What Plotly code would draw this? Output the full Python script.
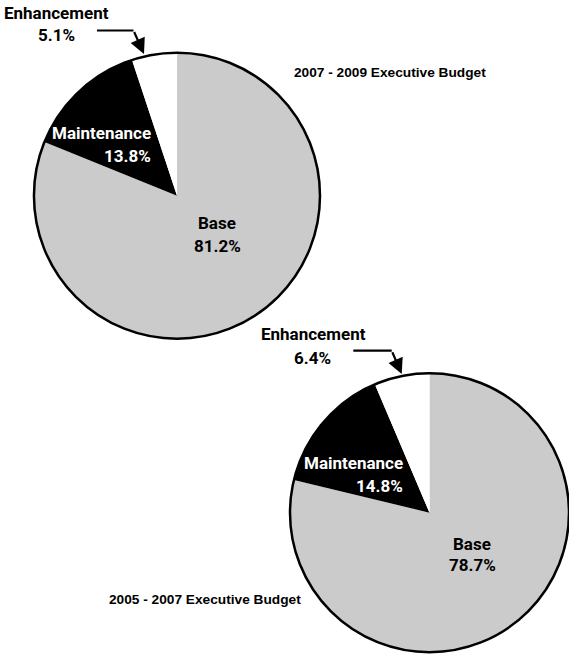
import plotly.graph_objects as go

# Budget composition by biennium
categories = ["Base", "Maintenance", "Enhancement"]
budget_titles = ["2007 - 2009 Executive Budget", "2005 - 2007 Executive Budget"]
share_2007_2009 = [81.2, 13.8, 5.1]
share_2005_2007 = [78.7, 14.8, 6.4]

slice_colors = ["#cbcbcb", "#000000", "#ffffff"]

W, H = 569, 657
LABEL_FONT = "Roboto, Liberation Sans, Arial, sans-serif"
TITLE_FONT = "Liberation Sans, Arial, Helvetica, sans-serif"


def fx(px):
    return px / W


def fy(py):
    return 1 - py / H


def domain(cx, cy, r):
    return dict(x=[max(0, fx(cx - r)), min(1, fx(cx + r))],
                y=[max(0, fy(cy + r)), min(1, fy(cy - r))])


fig = go.Figure()

pies = [
    dict(values=share_2007_2009, dom=domain(177, 195.7, 143)),
    dict(values=share_2005_2007, dom=dict(x=[fx(290), 1.0], y=[fy(652.2), fy(373.2)])),
]

for p in pies:
    fig.add_trace(go.Pie(
        labels=categories, values=p["values"], sort=False, direction="clockwise",
        rotation=0, textinfo="none", hoverinfo="skip", showlegend=False,
        marker=dict(colors=slice_colors, line=dict(width=0)),
        domain=p["dom"],
    ))
    # outer rim of the pie
    fig.add_trace(go.Pie(
        labels=["total"], values=[sum(p["values"])], sort=False, textinfo="none",
        hoverinfo="skip", showlegend=False,
        marker=dict(colors=["rgba(0,0,0,0)"], line=dict(color="#000000", width=2.5)),
        domain=p["dom"],
    ))

annotations = []
shapes = []


def label(text, x, y, size=17, xanchor="center", family=LABEL_FONT, color="#000000"):
    annotations.append(dict(
        text=text, x=fx(x), y=fy(y), xref="paper", yref="paper", showarrow=False,
        xanchor=xanchor, yanchor="middle",
        font=dict(family=family, size=size, color=color, weight="bold"),
    ))


def bent_arrow(x_start, y_line, x_bend, x_tip, y_tip):
    shapes.append(dict(type="line", xref="paper", yref="paper",
                       x0=fx(x_start), y0=fy(y_line), x1=fx(x_bend), y1=fy(y_line),
                       line=dict(color="#000000", width=2.2)))
    annotations.append(dict(
        text="", x=fx(x_tip), y=fy(y_tip), xref="paper", yref="paper",
        showarrow=True, ax=x_bend - x_tip, ay=y_line - y_tip, axref="pixel", ayref="pixel",
        arrowhead=2, arrowsize=1.4, arrowwidth=2.2, arrowcolor="#000000", standoff=0,
    ))


# 2007 - 2009
v = share_2007_2009
label(categories[0], 217, 223)
label(f"{v[0]:.1f}%", 217, 245.5)
label(categories[1], 153, 133, xanchor="right", color="#ffffff")
label(f"{v[1]:.1f}%", 153, 156, xanchor="right", color="#ffffff")
label(categories[2], 56, 12.5)
label(f"{v[2]:.1f}%", 56, 34.5)
label(budget_titles[0], 292, 72.5, size=13.7, xanchor="left", family=TITLE_FONT)
bent_arrow(97, 30.5, 133.5, 144, 54)

# 2005 - 2007
v = share_2005_2007
label(categories[0], 472, 544)
label(f"{v[0]:.1f}%", 472, 565)
label(categories[1], 405, 462.5, xanchor="right", color="#ffffff")
label(f"{v[1]:.1f}%", 405, 485.5, xanchor="right", color="#ffffff")
label(categories[2], 313, 333.5)
label(f"{v[2]:.1f}%", 312.5, 357.5)
label(budget_titles[1], 107, 599.5, size=13.7, xanchor="left", family=TITLE_FONT)
bent_arrow(353.3, 350.7, 391.7, 401.7, 374)

fig.update_layout(
    width=W, height=H, margin=dict(l=0, r=0, t=0, b=0),
    paper_bgcolor="#ffffff", plot_bgcolor="#ffffff",
    annotations=annotations, shapes=shapes,
)

fig.write_html("out.html")
